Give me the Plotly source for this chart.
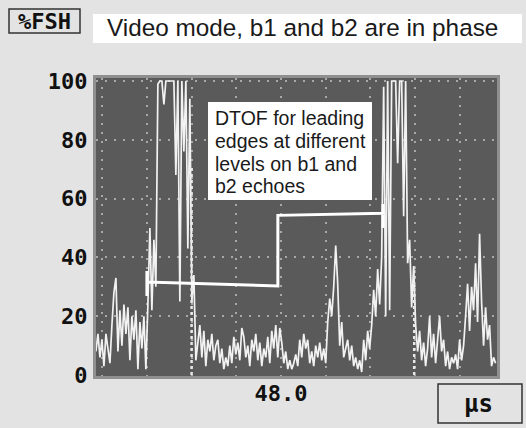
import plotly.graph_objects as go

# ---------------- data ----------------
# A-scan amplitude (%FSH), sampled every DT_US microseconds starting at T0_US
T0_US = 43.86
DT_US = 0.0447
amplitude = [
    8, 14, 6, 12, 3, 14, 9, 4, 17, 28, 33, 8, 22, 10, 24, 14, 23, 5, 20, 12,
    22, 2, 18, 9, 20, 2, 24, 50, 22, 46, 30, 99, 100, 100, 92, 100, 100, 100, 100, 100,
    68, 100, 25, 100, 76, 100, 43, 94, 25, 34, 5, 12, 17, 6, 15, 3, 12, 8, 14, 5,
    10, 12, 4, 9, 2, 6, 3, 10, 4, 13, 7, 11, 5, 16, 13, 6, 10, 3, 12, 8,
    14, 5, 11, 3, 9, 6, 13, 4, 15, 9, 17, 6, 16, 11, 4, 8, 2, 5, 2, 4,
    7, 3, 12, 6, 14, 9, 12, 4, 8, 3, 10, 6, 11, 5, 9, 4, 18, 26, 20, 30,
    44, 31, 10, 18, 6, 9, 12, 5, 10, 3, 6, 2, 5, 1, 12, 5, 15, 9, 17, 29,
    20, 36, 24, 40, 98, 20, 100, 22, 100, 100, 100, 72, 100, 100, 54, 100, 38, 46, 23, 37,
    17, 8, 15, 5, 11, 3, 9, 20, 6, 14, 4, 12, 20, 8, 12, 3, 8, 2, 6, 4,
    7, 2, 12, 5, 10, 20, 31, 15, 30, 22, 38, 18, 48, 25, 10, 23, 12, 17, 3, 6,
    4,
]
time_us = [T0_US + i * DT_US for i in range(len(amplitude))]

# DTOF marker: leading-edge levels on b1 and b2 echoes
dtof_t = [45.00, 45.00, 45.00, 47.93, 47.93, 50.28, 50.28, 50.28]
dtof_level = [35.4, 26.9, 31.6, 30.3, 54.3, 55.0, 58.2, 50.0]

# bright dotted trace segments lying on gridlines
marker1_t = [46.0, 46.0]
marker1_level = [0, 71]
marker2_t = [50.98, 50.98]
marker2_level = [0, 37]

x_gridvals = [44, 45, 46, 47, 48, 49, 50, 51, 52]
x_ticktext = ["", "", "", "", "48.0", "", "", "", ""]
y_tickvals = [0, 20, 40, 60, 80, 100]
y_ticktext = ["0", "20", "40", "60", "80", "100"]

title_text = "Video mode, b1 and b2 are in phase"
note_lines = ["DTOF for leading", "edges at different", "levels on b1 and", "b2 echoes"]

# ---------------- layout geometry ----------------
W, H = 526, 428
L, R, T, B = 96, 497, 78, 376


def PX(x):
    return (x - L) / (R - L)


def PY(y):
    return (B - y) / (B - T)


BG = "#e3e3e3"
PLOT_BG = "#5a5a5a"
TRACE = "#f2f2f2"
MONO = dict(family="DejaVu Sans Mono", size=22, color="#111111", weight="bold")

fig = go.Figure()
fig.add_trace(go.Scatter(x=time_us, y=amplitude, mode="lines",
                         line=dict(color=TRACE, width=1.7),
                         hoverinfo="skip", showlegend=False))
for mt, ml in ((marker1_t, marker1_level), (marker2_t, marker2_level)):
    fig.add_trace(go.Scatter(x=mt, y=ml, mode="lines",
                             line=dict(color="#e8e8e8", width=2.5, dash="3px,3px"),
                             hoverinfo="skip", showlegend=False))
fig.add_trace(go.Scatter(x=dtof_t, y=dtof_level, mode="lines",
                         line=dict(color="#ffffff", width=3),
                         hoverinfo="skip", showlegend=False))

x0_us = 48 - (281 - L) / 44.7
x1_us = 48 + (R - 281) / 44.7
y_lo = (375 - B) / 2.94
y_hi = (375 - T) / 2.94

fig.update_xaxes(range=[x0_us, x1_us], tickvals=x_gridvals, ticktext=x_ticktext,
                 showgrid=True, gridcolor="#a8a8a8", gridwidth=1.5, griddash="2px,7px",
                 zeroline=False, showline=True, linecolor="#8f8f8f", linewidth=3, mirror=True,
                 ticks="", tickfont=MONO, ticklabelstandoff=-4)
fig.update_yaxes(range=[y_lo, y_hi], tickvals=y_tickvals, ticktext=y_ticktext,
                 showgrid=True, gridcolor="#a8a8a8", gridwidth=1.5, griddash="2px,7px",
                 zeroline=False, showline=True, linecolor="#8f8f8f", linewidth=3, mirror=True,
                 ticks="", tickfont=MONO, ticklabelstandoff=1)

shapes = [
    # title box
    dict(type="rect", xref="paper", yref="paper", x0=PX(93), x1=PX(522), y0=PY(43), y1=PY(14),
         fillcolor="white", line=dict(width=0), layer="above"),
    # %FSH box
    dict(type="rect", xref="paper", yref="paper", x0=PX(9), x1=PX(80), y0=PY(33), y1=PY(9),
         fillcolor=BG, line=dict(color="#333333", width=1.5), layer="above"),
    # unit box
    dict(type="rect", xref="paper", yref="paper", x0=PX(438), x1=PX(522), y0=PY(423), y1=PY(384),
         fillcolor=BG, line=dict(color="#333333", width=1.5), layer="above"),
    # note box
    dict(type="rect", xref="paper", yref="paper", x0=PX(208), x1=PX(372), y0=PY(200), y1=PY(102),
         fillcolor="white", line=dict(width=0), layer="above"),
]

annotations = [
    dict(xref="paper", yref="paper", x=PX(302.5), y=PY(28), text=title_text, showarrow=False,
         xanchor="center", yanchor="middle",
         font=dict(family="Liberation Sans", size=24.3, color="#1a1a1a")),
    dict(xref="paper", yref="paper", x=PX(44.5), y=PY(21), text="%FSH", showarrow=False,
         xanchor="center", yanchor="middle", font=MONO),
    dict(xref="paper", yref="paper", x=PX(478), y=PY(404), text="µs", showarrow=False,
         xanchor="center", yanchor="middle",
         font=dict(family="DejaVu Sans Mono", size=24, color="#111111", weight="bold")),
]
for k, line in enumerate(note_lines):
    annotations.append(dict(xref="paper", yref="paper", x=PX(213), y=PY(118.3 + 22.6 * k),
                            text=line, showarrow=False, xanchor="left", yanchor="middle",
                            font=dict(family="Liberation Sans", size=19.5, color="#1a1a1a")))

fig.update_layout(width=W, height=H, autosize=False,
                  margin=dict(l=L, r=W - R, t=T, b=H - B, pad=0),
                  paper_bgcolor=BG, plot_bgcolor=PLOT_BG,
                  shapes=shapes, annotations=annotations, showlegend=False)

fig.write_html("out.html", config={"displayModeBar": False},
               post_script="document.body.style.margin='0';"
                           "document.body.style.background='#e3e3e3';")
